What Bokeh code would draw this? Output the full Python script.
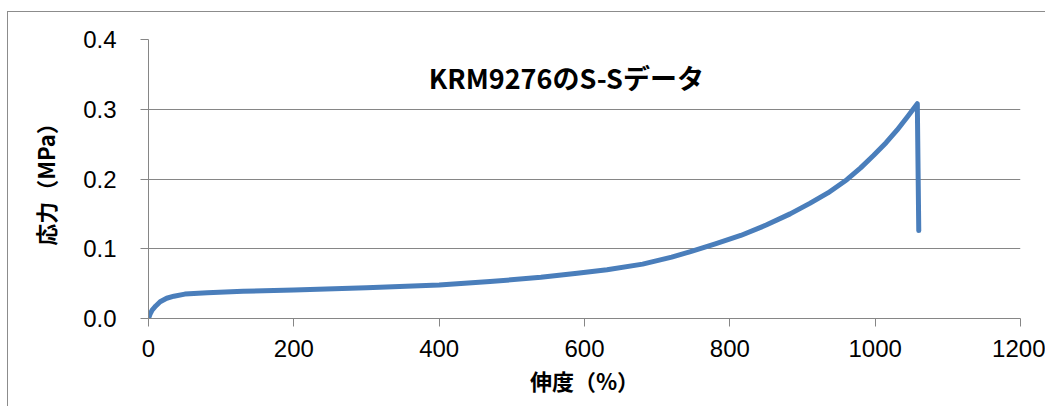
from bokeh.plotting import figure
from bokeh.models import Label, FixedTicker, NumeralTickFormatter, Range1d
from bokeh.embed import file_html
from bokeh.resources import INLINE

# Data (strain %, stress MPa)
strain = [0, 2, 5, 10, 16, 25, 35, 50, 81, 130, 200, 300, 400, 470, 540, 590, 631,
          680, 720, 746, 780, 815, 850, 883, 910, 935, 961, 980, 998, 1015, 1030,
          1045, 1058, 1060]
stress = [0.0, 0.006, 0.012, 0.018, 0.024, 0.029, 0.032, 0.035, 0.037, 0.039, 0.041,
          0.044, 0.048, 0.053, 0.059, 0.065, 0.070, 0.078, 0.088, 0.096, 0.107, 0.119,
          0.134, 0.150, 0.165, 0.180, 0.199, 0.216, 0.234, 0.252, 0.270, 0.290, 0.308,
          0.126]
x_ticks = [0, 200, 400, 600, 800, 1000, 1200]
y_ticks = [0.0, 0.1, 0.2, 0.3, 0.4]
title_text = "KRM9276のS-Sデータ"
x_label = "伸度（%）"
y_label = "応力（MPa）"

JP = "'Noto Sans CJK JP'"
NUM = "'Liberation Sans'"
GRAY = "#868686"

p = figure(output_backend="svg", toolbar_location=None,
           frame_width=872, frame_height=279,
           min_border_left=140, min_border_top=27,
           min_border_right=25, min_border_bottom=88,
           x_range=Range1d(0, 1200), y_range=Range1d(0, 0.4),
           margin=(11, 0, 0, 7))
p.styles = {"border-left": "1px solid #8c8c8c", "border-top": "1px solid #8c8c8c"}
p.outline_line_color = None
p.background_fill_color = "white"
p.border_fill_color = "white"

p.line(strain, stress, line_color="#4A7EBB", line_width=5,
       line_cap="round", line_join="round")

p.xgrid.visible = False
p.ygrid.ticker = FixedTicker(ticks=y_ticks)
p.ygrid.grid_line_color = GRAY
p.ygrid.grid_line_width = 1

for ax in (p.xaxis[0], p.yaxis[0]):
    ax.axis_line_color = GRAY
    ax.axis_line_width = 1
    ax.major_tick_line_color = GRAY
    ax.major_tick_in = 0
    ax.major_tick_out = 8
    ax.minor_tick_line_color = None
    ax.major_label_text_font = NUM
    ax.major_label_text_font_size = "24px"
    ax.major_label_text_color = "black"
    ax.axis_label_text_font = JP
    ax.axis_label_text_font_size = "22px"
    ax.axis_label_text_font_style = "bold"
    ax.axis_label_text_color = "black"

p.xaxis.ticker = FixedTicker(ticks=x_ticks)
p.yaxis.ticker = FixedTicker(ticks=y_ticks)
p.yaxis.formatter = NumeralTickFormatter(format="0.0")
p.xaxis.major_label_standoff = 13
p.yaxis.major_label_standoff = 24
p.xaxis.axis_label = x_label
p.yaxis.axis_label = y_label
p.xaxis.axis_label_standoff = 4
p.yaxis.axis_label_standoff = 19

p.add_layout(Label(x=575, y=0.3455, text=title_text, text_align="center",
                   text_baseline="middle", text_font=JP, text_font_size="27px",
                   text_font_style="bold", text_color="black"))

open("out.html", "w").write(file_html(p, INLINE))
